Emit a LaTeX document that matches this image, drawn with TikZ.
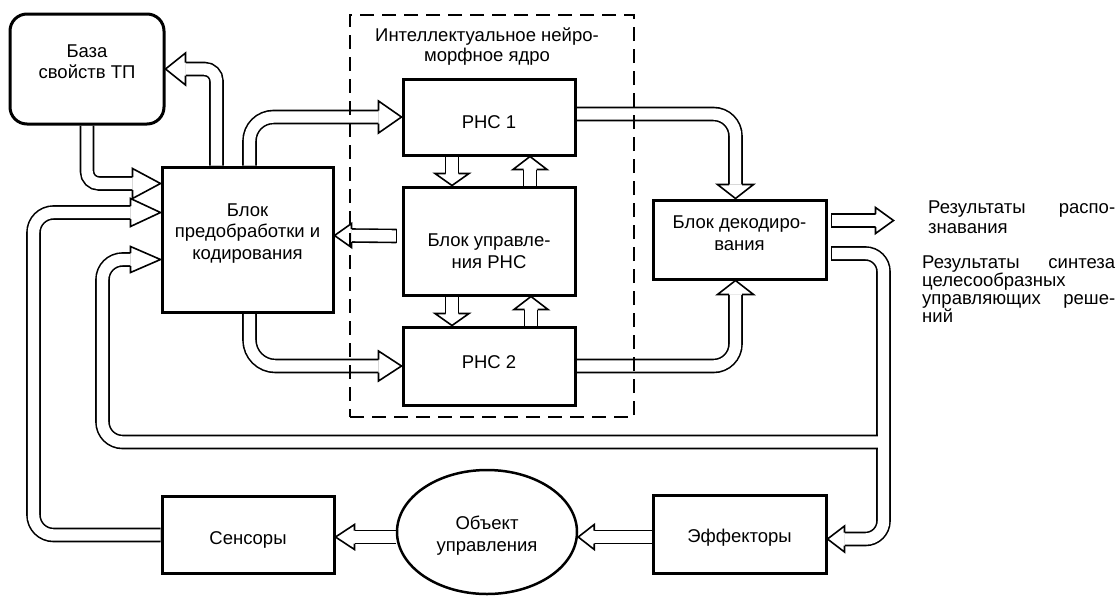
\documentclass[tikz,border=0pt]{standalone}
\usepackage{fontspec}
\setmainfont{Liberation Sans}
\usetikzlibrary{calc,shapes.geometric,backgrounds}

\tikzset{
  blk/.style={draw, line width=3pt, minimum width=172pt},
  boxtxt/.style={align=center, inner sep=0pt, font=\fontsize{18.5}{21.5}\selectfont},
  chan/.style={draw, line width=1.6pt, double=white, double distance=11.4pt,
    rounded corners=12pt},
  capline/.style={line width=1.6pt, line cap=rect},
  rtxt/.style={inner sep=0pt, anchor=base west,
    font=\fontsize{18.5}{20.5}\selectfont},
  pics/head/.style 2 args={code={
    \draw[line width=1.6pt, fill=white] (-#1,-6.5) -- (-#1,-#2) -- (0,0)
      -- (-#1,#2) -- (-#1,6.5);}},
}

\begin{document}
\begin{tikzpicture}[x=1pt, y=-1pt]
  \useasboundingbox (0,0) rectangle (1119,595);

  % blocks
  \node[blk, rounded corners=17pt, minimum width=154pt, minimum height=110pt] (base) at (87,69) {};
  \node[boxtxt] (base-t) at ($(base)+(0,-7.5)$) {База\\свойств ТП};
  \node[blk, minimum width=171pt, minimum height=145pt] (prep) at (247.5,239.5) {};
  \node[boxtxt] (prep-t) at ($(prep)+(0,-6)$) {Блок\\предобработки и\\кодирования};
  \node[blk, minimum height=76pt] (rns1) at (489,117) {};
  \node[boxtxt] (rns1-t) at ($(rns1)+(0,5.5)$) {РНС 1};
  \node[blk, minimum height=108pt] (ctrl) at (489,241) {};
  \node[boxtxt] (ctrl-t) at ($(ctrl)+(0,10)$) {Блок управле-\\ния РНС};
  \node[blk, minimum height=78pt] (rns2) at (489,366) {};
  \node[boxtxt] (rns2-t) at ($(rns2)+(0,-3.5)$) {РНС 2};
  \node[blk, minimum width=173pt, minimum height=79pt] (dec) at (739.5,239.5) {};
  \node[boxtxt] (dec-t) at ($(dec)+(0,-6.5)$) {Блок декодиро-\\вания};
  \node[blk, minimum height=77pt] (sens) at (248,535) {};
  \node[boxtxt] (sens-t) at ($(sens)+(0,4.5)$) {Сенсоры};
  \node[blk, ellipse, line width=2.5pt, minimum width=180pt, minimum height=124pt] (obj) at (487,532) {};
  \node[boxtxt] (obj-t) at ($(obj)+(0,3.5)$) {Объект\\управления};
  \node[blk, minimum width=173pt, minimum height=78pt] (eff) at (739.5,534) {};
  \node[boxtxt] (eff-t) at ($(eff)+(0,3.5)$) {Эффекторы};

  % core
  \node[draw, line width=2pt, dash pattern=on 14pt off 8pt, minimum width=284pt, minimum height=402pt] (core) at (492,216) {};
  \node[boxtxt, font=\fontsize{18.5}{20}\selectfont] (coretitle) at (487,47) {Интеллектуальное нейро-\\морфное ядро};

  % outputs
  \node[rtxt, text width=187pt] (res1) at (928,213) {Результаты\hfill распо-\\знавания};
  \node[rtxt, text width=193pt, font=\fontsize{18.5}{18}\selectfont] (res2) at (922,268) {Результаты\hfill синтеза\\целесообразных\\управляющих\hfill реше-\\ний};

  \begin{scope}[on background layer]
    % base <-> prep
    \coordinate (in1) at ($(prep.west)+(0,-56)$);
    \draw[chan] (base.south) |- ($(in1)+(-28,0)$);
    \pic at (in1) {head={28}{15}};
    \draw[chan] ($(prep.north)+(-31,0)$) |- ($(base.east)+(20,0)$);
    \pic[rotate=180] at (base.east) {head={20}{16}};

    % prep -> rns
    \draw[chan, rounded corners=24pt] ($(prep.north)+(2,0)$) |- ($(rns1.west)+(-23,0)$);
    \pic at (rns1.west) {head={23}{16}};
    \draw[chan, rounded corners=26pt] ($(prep.south)+(2,0)$) |- ($(rns2.west)+(-23,0)$);
    \pic at (rns2.west) {head={23}{15}};

    % rns <-> ctrl
    \draw[chan] ($(rns1.south)+(-37,0)$) -- ($(ctrl.north)+(-37,-12)$);
    \pic[rotate=-90] at ($(ctrl.north)+(-37,0)$) {head={12}{17}};
    \draw[chan] ($(ctrl.north)+(41,0)$) -- ($(rns1.south)+(41,13)$);
    \pic[rotate=90] at ($(rns1.south)+(41,0)$) {head={13}{17}};
    \draw[chan] ($(ctrl.south)+(-37,0)$) -- ($(rns2.north)+(-37,-12)$);
    \pic[rotate=-90] at ($(rns2.north)+(-37,0)$) {head={12}{17}};
    \draw[chan] ($(rns2.north)+(42,0)$) -- ($(ctrl.south)+(42,13)$);
    \pic[rotate=90] at ($(ctrl.south)+(42,0)$) {head={13}{17}};

    % ctrl -> prep
    \coordinate (s9) at ($(ctrl.west)+(-5,-5)$);
    \draw[chan] (s9) -- ($(prep.east)+(17,-4)$);
    \draw[capline] ($(s9)+(0,-6.5)$) -- ($(s9)+(0,6.5)$);
    \pic[rotate=180] at ($(prep.east)+(0,-4)$) {head={17}{12}};

    % rns -> dec
    \draw[chan, rounded corners=22pt] ($(rns1.east)+(0,-3)$) -| ($(dec.north)+(-4,-14)$);
    \pic[rotate=-90] at ($(dec.north)+(-4,0)$) {head={14}{18}};
    \draw[chan, rounded corners=22pt] (rns2.east) -| ($(dec.south)+(-4,14)$);
    \pic[rotate=90] at ($(dec.south)+(-4,0)$) {head={14}{18}};

    % dec -> outputs
    \coordinate (s12) at ($(dec.east)+(4,-19)$);
    \coordinate (outtip) at ($(s12)+(62,0)$);
    \draw[chan] (s12) -- ($(outtip)+(-18,0)$);
    \draw[capline] ($(s12)+(0,-6.5)$) -- ($(s12)+(0,6.5)$);
    \pic at (outtip) {head={18}{13}};
    \coordinate (s13) at ($(dec.east)+(4,14)$);
    \draw[chan, rounded corners=18pt] (s13) -- ++(52,0) |- ($(eff.east)+(17,5)$);
    \draw[capline] ($(s13)+(0,-6.5)$) -- ($(s13)+(0,6.5)$);
    \pic[rotate=180] at ($(eff.east)+(0,5)$) {head={17}{13}};

    % feedback to prep
    \coordinate (fb) at ($(s13)+(46.3,188.5)$);
    \coordinate (in14) at ($(prep.west)+(0,20)$);
    \draw[chan, rounded corners=20pt] (fb) -| ($(in14)+(-58,0)$) -- ($(in14)+(-30,0)$);
    \pic at (in14) {head={30}{13}};

    % plant loop
    \coordinate (in15) at ($(prep.west)+(0,-27)$);
    \draw[chan, rounded corners=20pt] (sens.west) -| ($(in15)+(-127,0)$) -- ($(in15)+(-30,0)$);
    \pic at (in15) {head={30}{14}};
    \draw[chan] ($(obj.west)+(0,5)$) -- ($(sens.east)+(19,2)$);
    \pic[rotate=180] at ($(sens.east)+(0,2)$) {head={19}{12.5}};
    \draw[chan] ($(eff.west)+(0,3)$) -- ($(obj.east)+(16,5)$);
    \pic[rotate=180] at ($(obj.east)+(0,5)$) {head={16}{12.5}};
  \end{scope}
\end{tikzpicture}
\end{document}
